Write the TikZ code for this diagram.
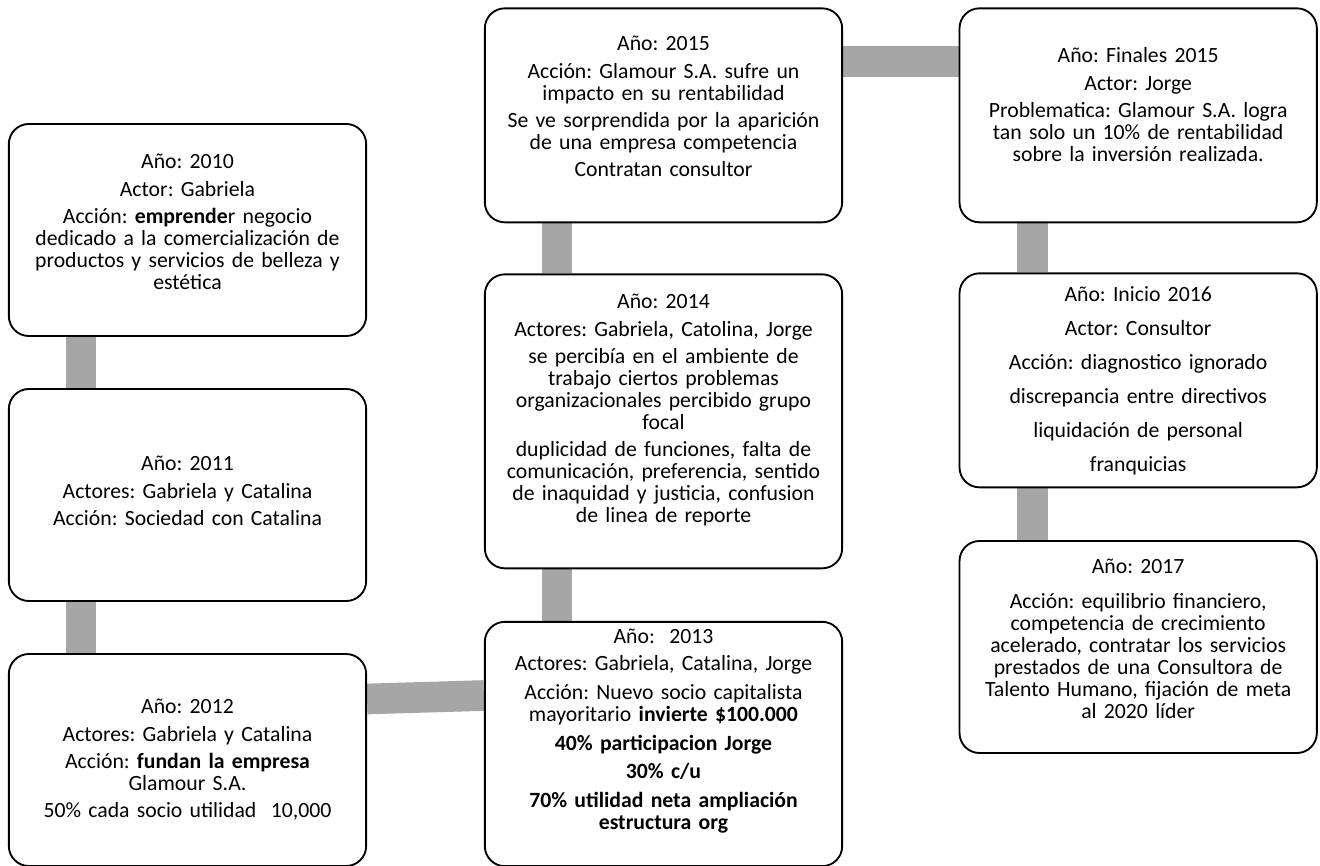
\documentclass[tikz,border=0pt]{standalone}
\usepackage{fontspec}
\setmainfont{Carlito}
\usetikzlibrary{positioning,calc,backgrounds}
\definecolor{linkgray}{HTML}{A6A6A6}
\newcommand{\padbottom}[1]{\rule[-#1]{0pt}{#1}}

\begin{document}
\frenchspacing
\fontsize{16.3}{16.5}\selectfont
\begin{tikzpicture}[x=0.75pt,y=-0.75pt,node distance =198.75pt and 357pt ,on grid ,
event/.style ={draw, line width=1.4pt, rounded corners=15pt, fill=white,
minimum width=268pt, minimum height=159pt, text width=274pt, inner xsep=-5pt,
align=center, font=\fontsize{16.3}{16.5}\selectfont },
link/.style ={draw=linkgray, line width=23pt }]
\useasboundingbox (0,0) rectangle (1320,866);
\node[event] (Y10) at (187.5,230) {Año: 2010\\[4pt] Actor: Gabriela\\[4pt]
Acción: \textbf{emprende}r negocio\\ dedicado a la comercialización de\\
productos y servicios de belleza y\\ estética\padbottom{12pt}};
\node[event] (Y11) [below =of Y10] {Año: 2011\\[4pt] Actores: Gabriela y Catalina\\[4pt]
Acción: Sociedad con Catalina\padbottom{6pt}};
\node[event] (Y12) [below =of Y11] {Año: 2012\\[4pt] Actores: Gabriela y Catalina\\[4pt]
Acción: \textbf{fundan la empresa}\\ Glamour S.A.\\[4pt] 50\% cada socio utilidad\ \ 10,000};
\node[event, minimum height=181pt] (Y13) [above right =12pt and 357pt of Y12]
{Año:\ \ 2013\\[4pt] Actores: Gabriela, Catalina, Jorge\\[5pt]
Acción: Nuevo socio capitalista\\ mayoritario \textbf{invierte \$100.000}\\[5pt]
\textbf{40\% participacion Jorge}\\[5pt] \textbf{30\% c/u}\\[5pt]
\textbf{70\% utilidad neta ampliación}\\ \textbf{estructura org}\padbottom{22pt}};
\node[event, minimum height=220.5pt] (Y14) [above =242pt of Y13]
{Año: 2014\\[4pt] Actores: Gabriela, Catolina, Jorge\\[4pt]
se percibía en el ambiente de\\ trabajo ciertos problemas\\
organizacionales percibido grupo\\ focal\\[4pt]
duplicidad de funciones, falta de\\ comunicación, preferencia, sentido\\
de inaquidad y justicia, confusion\\ de linea de reporte\padbottom{19pt}};
\node[event, minimum height=160.5pt] (Y15) [above =229.5pt of Y14]
{Año: 2015\\[4pt] Acción: Glamour S.A. sufre un\\ impacto en su rentabilidad\\[4pt]
Se ve sorprendida por la aparición\\ de una empresa competencia\\[4pt]
Contratan consultor\padbottom{13pt}};
\node[event, minimum height=160.5pt] (F15) [right =356pt of Y15]
{Año: Finales 2015\\[4pt] Actor: Jorge\\[4pt] Problematica: Glamour S.A. logra\\
tan solo un 10\% de rentabilidad\\ sobre la inversión realizada.\padbottom{16pt}};
\node[event, minimum height=160.5pt] (Y16) [below =of F15]
{Año: Inicio 2016\\[9pt] Actor: Consultor\\[9pt] Acción: diagnostico ignorado\\[9pt]
discrepancia entre directivos\\[9pt] liquidación de personal\\[9pt] franquicias};
\node[event] (Y17) [below =200pt of Y16]
{Año: 2017\\[10pt] Acción: equilibrio financiero,\\ competencia de crecimiento\\
acelerado, contratar los servicios\\ prestados de una Consultora de\\
Talento Humano, fijación de meta\\ al 2020 líder\padbottom{12pt}};

\begin{scope}[on background layer]
\path[link] ($(Y10.south)+(-106.5,0)$) -- ($(Y11.north)+(-106.5,0)$);
\path[link] ($(Y11.south)+(-106.5,0)$) -- ($(Y12.north)+(-106.5,0)$);
\path[link] ($(Y12.east)+(0,-61)$) -- ($(Y13.west)+(0,-48.5)$);
\path[link] ($(Y13.north)+(-106.5,0)$) -- ($(Y14.south)+(-106.5,0)$);
\path[link] ($(Y14.north)+(-106.5,0)$) -- ($(Y15.south)+(-106.5,0)$);
\path[link] ($(Y15.east)+(0,-54)$) -- ($(F15.west)+(0,-54)$);
\path[link] ($(F15.south)+(-106,0)$) -- ($(Y16.north)+(-106,0)$);
\path[link] ($(Y16.south)+(-106,0)$) -- ($(Y17.north)+(-106,0)$);
\end{scope}
\end{tikzpicture}
\end{document}
